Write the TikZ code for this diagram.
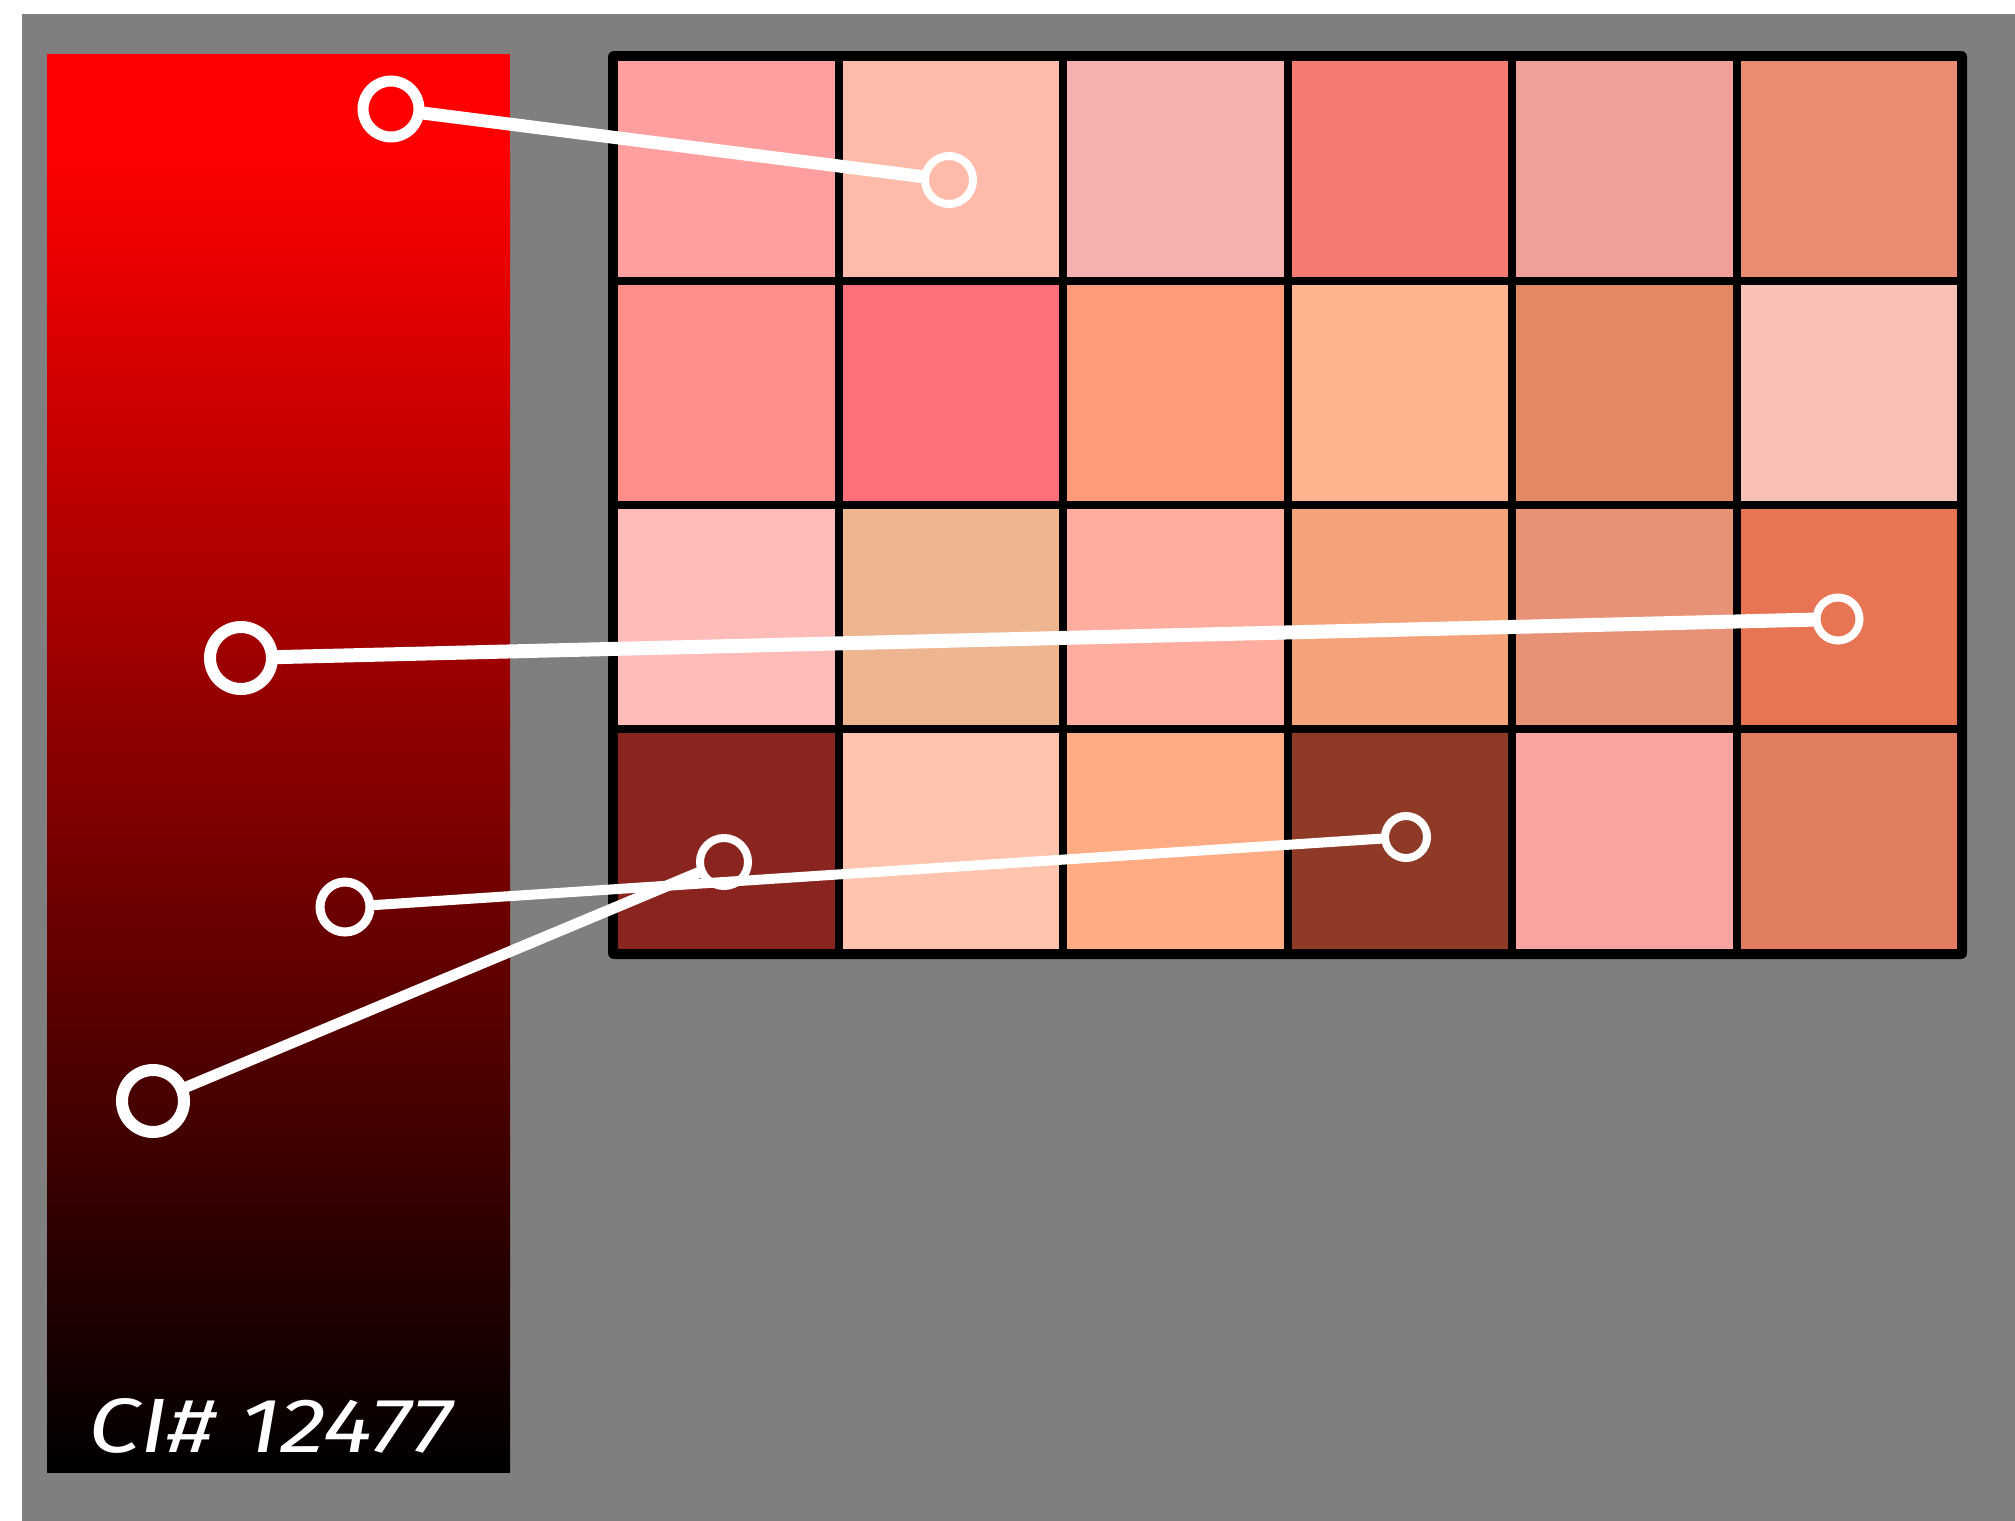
\documentclass[tikz,border=0pt]{standalone}
\usepackage{graphicx}
\usepackage{fontspec}
\newfontfamily\handfont{Fira Sans}
\definecolor{bggray}{HTML}{7F7F7F}
\definecolor{c11}{HTML}{FF9F9F}
\definecolor{c12}{HTML}{FFBBAA}
\definecolor{c13}{HTML}{F4B1AE}
\definecolor{c14}{HTML}{F47A72}
\definecolor{c15}{HTML}{EFA199}
\definecolor{c16}{HTML}{E88D72}
\definecolor{c21}{HTML}{FF8E89}
\definecolor{c22}{HTML}{FF6F79}
\definecolor{c23}{HTML}{FF9A7B}
\definecolor{c24}{HTML}{FFB38E}
\definecolor{c25}{HTML}{E28862}
\definecolor{c26}{HTML}{F9C0B8}
\definecolor{c31}{HTML}{FFBCB9}
\definecolor{c32}{HTML}{EEB591}
\definecolor{c33}{HTML}{FFAD9F}
\definecolor{c34}{HTML}{F4A27A}
\definecolor{c35}{HTML}{E79277}
\definecolor{c36}{HTML}{E77453}
\definecolor{c41}{HTML}{89251E}
\definecolor{c42}{HTML}{FFC4AD}
\definecolor{c43}{HTML}{FFAB84}
\definecolor{c44}{HTML}{8E3A27}
\definecolor{c45}{HTML}{F9A5A2}
\definecolor{c46}{HTML}{E07E5F}
\begin{document}
\begin{tikzpicture}[x=0.5pt,y=-0.5pt,
  ring/.style={circle, draw=white, inner sep=0pt, fill=none},
  link/.style={draw=white, line cap=round}]
\useasboundingbox (0,0) rectangle (2015,1521);
\fill[white] (0,0) rectangle (2015,1521);
\fill[bggray] (22,14) rectangle (2015,1521);
% gradient bar
\fill[red] (47,54) rectangle (510,150);
\shade[top color=red, bottom color=black] (47,149) rectangle (510,1472);
% colour grid
\fill[black, rounded corners=3pt] (608,51) rectangle (1967,959);
\foreach \r in {1,...,4}{
  \foreach \c in {1,...,6}{
    \fill[c\r\c] ({614+224.5*(\c-1)+4},{57+224*(\r-1)+4}) rectangle ({614+224.5*\c-4},{57+224*\r-4});
  }
}
% rings
\node[ring, minimum size=28pt, line width=5.5pt] (p1) at (391,109) {};
\node[ring, minimum size=24pt, line width=4pt] (p2) at (949,180) {};
\node[ring, minimum size=31pt, line width=6pt] (p3) at (241,658) {};
\node[ring, minimum size=21.5pt, line width=4pt] (p4) at (1838,619) {};
\node[ring, minimum size=25pt, line width=4.5pt] (pa) at (345,907) {};
\node[ring, minimum size=24pt, line width=4pt] (pc) at (724,862) {};
\node[ring, minimum size=21pt, line width=4pt] (pb) at (1406,837) {};
\node[ring, minimum size=31pt, line width=6pt] (pd) at (153,1101) {};
% connectors
\draw[link, line width=6.5pt] (p1) -- (p2);
\draw[link, line width=7pt] (p3) -- (p4);
\draw[link, line width=5pt] (pa) -- (pb);
\draw[link, line width=5.5pt] (pd) -- (pc);
% label
\node[text=white, anchor=base west, inner sep=0pt] (lbl) at (88,1452)
  {\resizebox{182pt}{27pt}{\handfont\itshape CI\# 12477}};
\end{tikzpicture}
\end{document}
